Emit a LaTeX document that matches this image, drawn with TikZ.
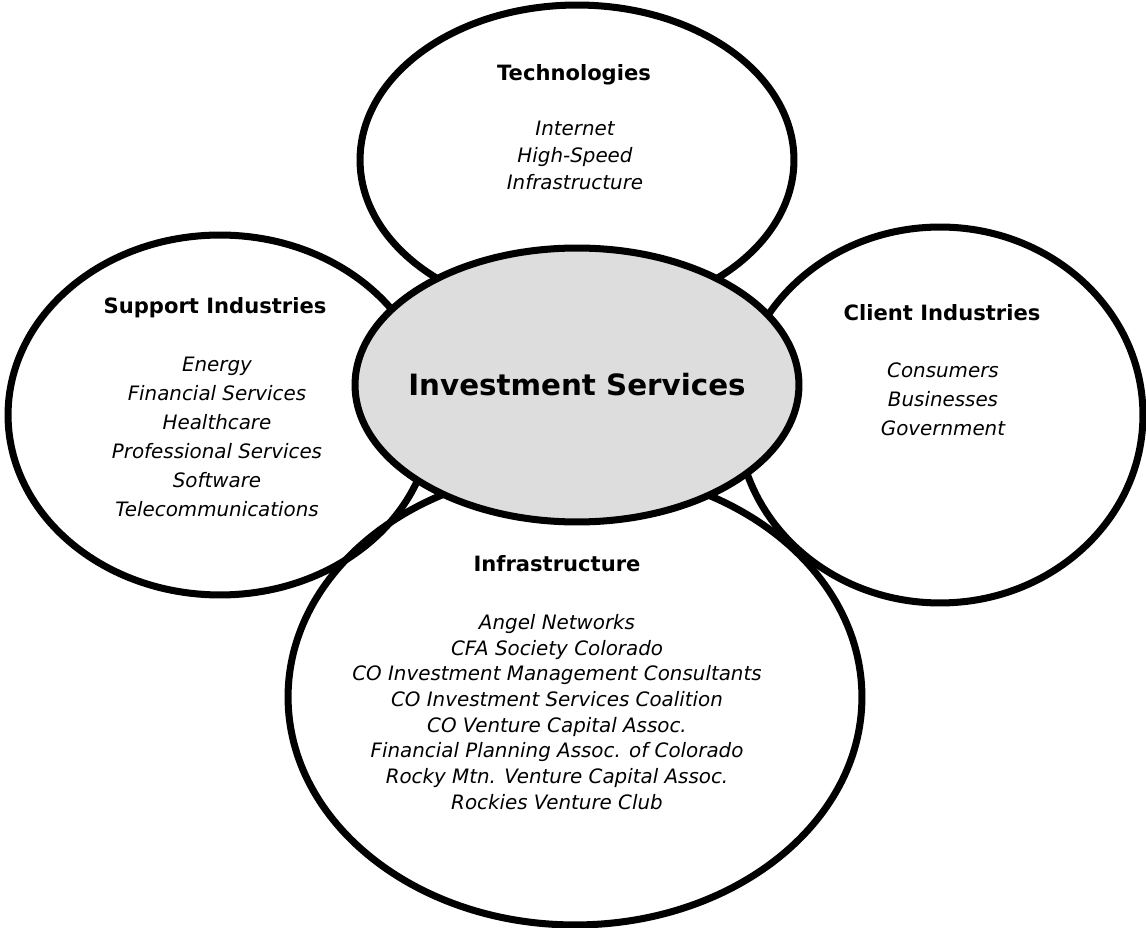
\documentclass[tikz,border=0pt]{standalone}
\usepackage{fontspec}
\setmainfont{DejaVu Sans}
\definecolor{coregray}{RGB}{221, 221, 221}
\usetikzlibrary{shapes.geometric, positioning}

\begin{document}
\begin{tikzpicture}[x=0.02cm, y=-0.02cm,
  ring/.style={draw, ellipse, line width=4pt, inner sep=0pt},
  heading/.style={font=\bfseries\fontsize{12}{14}\selectfont},
  itemlist/.style={font=\itshape\fontsize{11.3}{16.5}\selectfont, align=center}]
  \useasboundingbox (0,0) rectangle (1146,928);

  % Outer ellipses
  \node[ring, minimum width=8.68cm, minimum height=6.2cm] (tech) at (577,160) {};
  \node[ring, minimum width=8.48cm, minimum height=7.2cm] (supp) at (220,415) {};
  \node[ring, minimum width=8.12cm, minimum height=7.52cm] (client) at (940,415) {};
  \node[ring, minimum width=11.48cm, minimum height=9.12cm] (infra) at (575,697) {};

  % Centre
  \node[ring, fill=coregray, minimum width=8.88cm, minimum height=5.48cm] (core) at (577,385) {};
  \node[font=\bfseries\fontsize{16.7}{20}\selectfont] (corelabel) at (core.center) {Investment Services};

  % Labels
  \node[heading] (techtitle) at (574,75) {Technologies};
  \node[itemlist, font=\itshape\fontsize{11.3}{15.4}\selectfont] (techitems) at (575,155) {Internet\\High-Speed\\Infrastructure};

  \node[heading] (supptitle) at (215,308) {Support Industries};
  \node[itemlist] (suppitems) at (217,437) {Energy\\Financial Services\\Healthcare\\Professional Services\\Software\\Telecommunications};

  \node[heading] (clienttitle) at (942,313) {Client Industries};
  \node[itemlist] (clientitems) at (943,399) {Consumers\\Businesses\\Government};

  \node[heading] (infratitle) at (557,564) {Infrastructure};
  \node[itemlist, font=\itshape\fontsize{11.3}{14.6}\selectfont] (infraitems) at (557,712) {Angel Networks\\CFA Society Colorado\\CO Investment Management Consultants\\CO Investment Services Coalition\\CO Venture Capital Assoc.\\Financial Planning Assoc. of Colorado\\Rocky Mtn. Venture Capital Assoc.\\Rockies Venture Club};
\end{tikzpicture}
\end{document}
